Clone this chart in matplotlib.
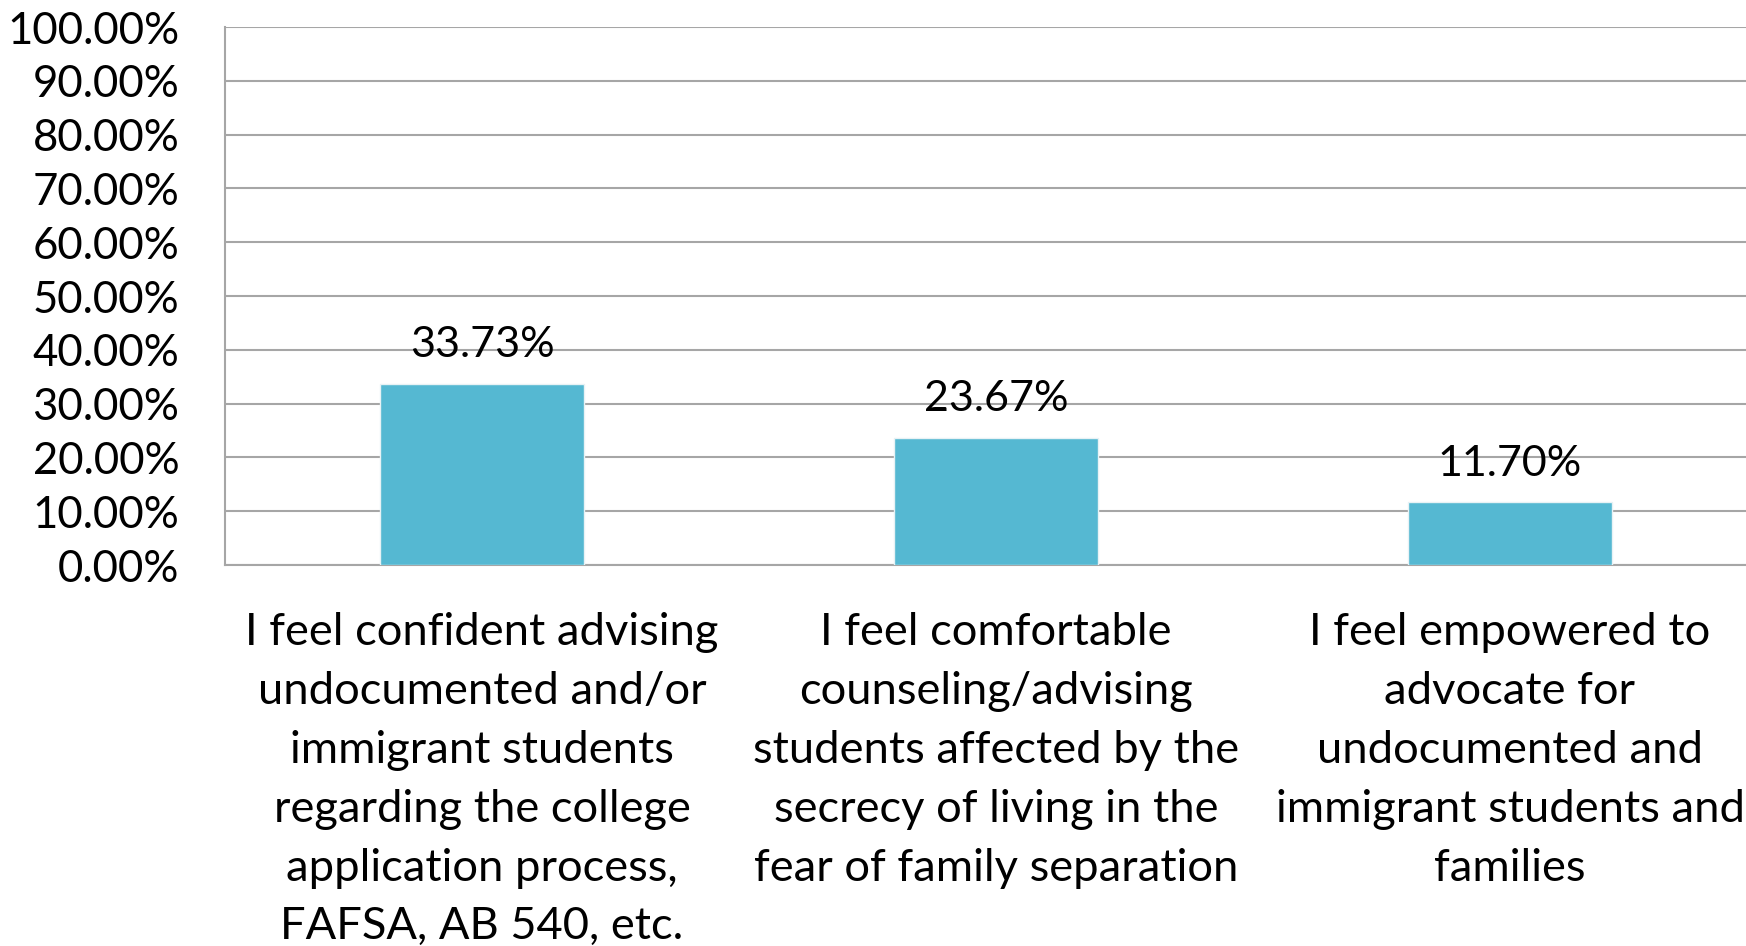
import matplotlib
matplotlib.use("Agg")
import matplotlib.pyplot as plt
from matplotlib.ticker import FuncFormatter, MultipleLocator

categories = [
    "I feel confident advising\nundocumented and/or\nimmigrant students\nregarding the college\napplication process,\nFAFSA, AB 540, etc.",
    "I feel comfortable\ncounseling/advising\nstudents affected by the\nsecrecy of living in the\nfear of family separation",
    "I feel empowered to\nadvocate for\nundocumented and\nimmigrant students and\nfamilies",
]
values = [33.73, 23.67, 11.70]

plt.rcParams['font.family'] = ['Lato', 'DejaVu Sans']

fig = plt.figure(figsize=(17.46, 9.46), dpi=100)
ax = fig.add_axes([225/1746, (946-565)/946, 1542/1746, (565-27)/946])

x = list(range(len(categories)))
bars = ax.bar(x, values, width=0.395, color='#55B8D2', edgecolor='#e8f2f5', linewidth=1.0, zorder=3)
ax.bar_label(bars, labels=[f"{v:.2f}%" for v in values], padding=14, fontsize=31, color='black')

ax.set_xlim(-0.5, 2.5)
ax.set_ylim(0, 100)
ax.yaxis.set_major_locator(MultipleLocator(10))
ax.yaxis.set_major_formatter(FuncFormatter(lambda v, p: f"{v:.2f}%"))
ax.grid(axis='y', color='#a6a6a6', linewidth=1.5, zorder=0)
ax.set_axisbelow(True)

ax.set_xticks(x)
ax.set_xticklabels(categories, fontsize=32.6, linespacing=1.54, va='top')
ax.tick_params(axis='x', length=0, pad=34)
ax.tick_params(axis='y', length=0, pad=33, labelsize=31.5)

for s in ['top', 'right']:
    ax.spines[s].set_visible(False)
for s in ['left', 'bottom']:
    ax.spines[s].set_color('#a6a6a6')
    ax.spines[s].set_linewidth(1.5)

fig.savefig('out.png', dpi=100)
